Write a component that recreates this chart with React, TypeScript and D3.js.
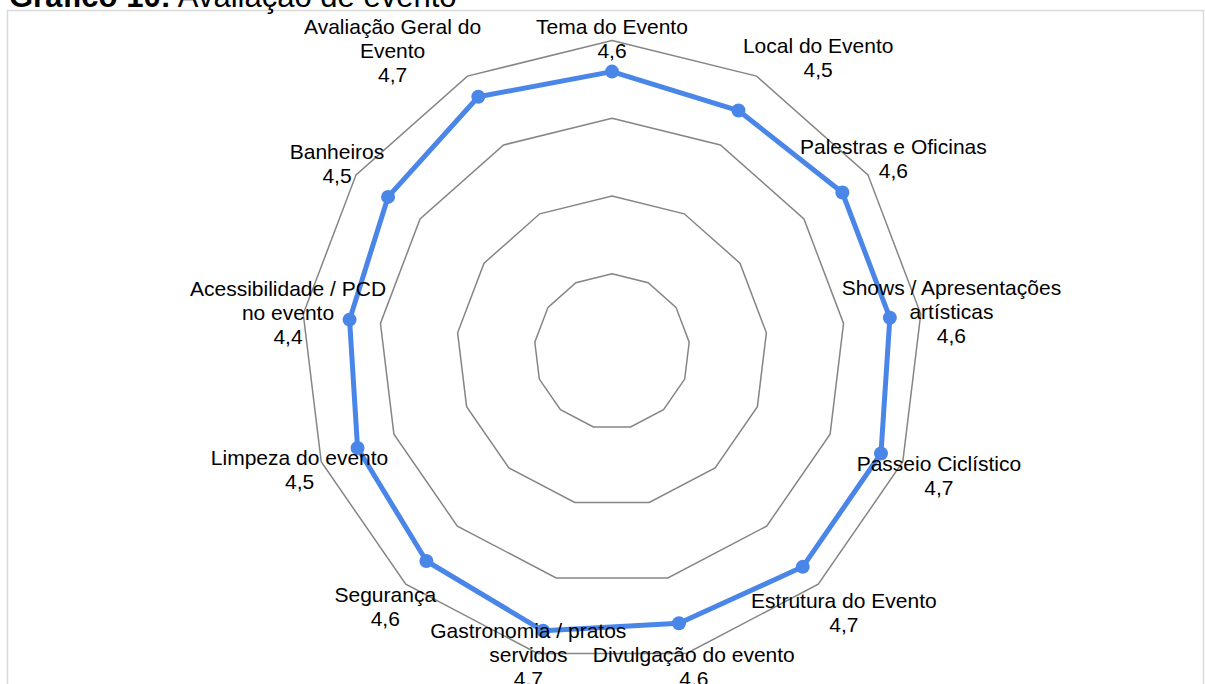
import React from "react";
import * as d3 from "d3";

const categories = [
  "Tema do Evento",
  "Local do Evento",
  "Palestras e Oficinas",
  "Shows / Apresentações artísticas",
  "Passeio Ciclístico",
  "Estrutura do Evento",
  "Divulgação do evento",
  "Gastronomia / pratos servidos",
  "Segurança",
  "Limpeza do evento",
  "Acessibilidade / PCD no evento",
  "Banheiros",
  "Avaliação Geral do Evento",
];
// label text broken the way the reference wraps it
const labelLines = [
  ["Tema do Evento"],
  ["Local do Evento"],
  ["Palestras e Oficinas"],
  ["Shows / Apresentações", "artísticas"],
  ["Passeio Ciclístico"],
  ["Estrutura do Evento"],
  ["Divulgação do evento"],
  ["Gastronomia / pratos", "servidos"],
  ["Segurança"],
  ["Limpeza do evento"],
  ["Acessibilidade / PCD", "no evento"],
  ["Banheiros"],
  ["Avaliação Geral do", "Evento"],
];
const scores = [4.6, 4.5, 4.6, 4.6, 4.7, 4.7, 4.6, 4.7, 4.6, 4.5, 4.4, 4.5, 4.7];
const ringTicks = [2, 3, 4, 5];

const W = 1205;
const H = 684;
const cx = 612;
const cy = 351.5;
const R = 311;
const lineH = 24;
const fontSize = 21;
const font = "'Liberation Sans', Arial, sans-serif";

const measure = (() => {
  const ctx = document.createElement("canvas").getContext("2d")!;
  ctx.font = `${fontSize}px 'Liberation Sans', Arial, sans-serif`;
  return (s: string) => ctx.measureText(s).width;
})();

const App = () => {
  const n = categories.length;
  const r = d3.scaleLinear().domain([1, 5]).range([0, R]);
  const angle = d3.scaleLinear().domain([0, n]).range([0, 2 * Math.PI]);

  const pt = (i: number, v: number): [number, number] => {
    const a = angle(i);
    return [cx + Math.sin(a) * r(v), cy - Math.cos(a) * r(v)];
  };

  const ringPath = (v: number) =>
    d3.line()(categories.map((_, i) => pt(i, v)))! + "Z";

  const seriesPath = d3.line()(scores.map((v, i) => pt(i, v)))! + "Z";

  const fmt = (v: number) => d3.format(".1f")(v).replace(".", ",");

  // label boxes: offset from the point, clamped to the chart area
  const labels = scores.map((v, i) => {
    const [x, y] = pt(i, v);
    const a = angle(i);
    const lines = [...labelLines[i], fmt(v)];
    const w = d3.max(lines, measure)!;
    const bx = x + Math.sin(a) * 62;
    let top = y - Math.cos(a) * 60 - ((lines.length - 1) * lineH) / 2;
    top = Math.max(top, 26);
    top = Math.min(top, 678 - (lines.length - 1) * lineH);
    return { lines, w, bx, top, bottom: top + (lines.length - 1) * lineH };
  });

  // upper labels keep clear of their neighbour nearer the top
  const gap = 55;
  const vOverlap = (p: any, q: any) => p.top <= q.bottom + lineH && q.top <= p.bottom + lineH;
  for (let i = 1; i < n / 2; i++) {
    const p = labels[i - 1], q = labels[i];
    if (q.top < cy && vOverlap(p, q)) {
      const minX = p.bx + p.w / 2 + gap + q.w / 2;
      if (q.bx < minX) q.bx = minX;
    }
  }
  for (let i = n - 1; i > n / 2; i--) {
    const p = labels[(i + 1) % n], q = labels[i];
    if (q.top < cy && vOverlap(p, q)) {
      const maxX = p.bx - p.w / 2 - gap - q.w / 2;
      if (q.bx > maxX) q.bx = maxX;
    }
  }

  return (
    <>
      <style>{`body{margin:0}`}</style>
      <svg width={W} height={H} style={{ display: "block" }}>
        <rect x={7.5} y={10.5} width={1196} height={700} fill="#fff" stroke="#d9d9d9" strokeWidth={1.5} />
        <text x={9} y={7} fontFamily={font} fontSize={31} fill="#000">
          <tspan fontWeight="bold">Gráfico 10:</tspan>
          <tspan> Avaliação de evento</tspan>
        </text>

        {ringTicks.map((t) => (
          <path key={t} d={ringPath(t)} fill="none" stroke="#858585" strokeWidth={1.5} />
        ))}

        <path d={seriesPath} fill="none" stroke="#4a86e8" strokeWidth={5} strokeLinejoin="round" />
        {scores.map((v, i) => {
          const [x, y] = pt(i, v);
          return <circle key={i} cx={x} cy={y} r={7} fill="#4a86e8" />;
        })}

        {labels.map((lb, i) => (
          <text
            key={categories[i]}
            x={lb.bx}
            textAnchor="middle"
            dominantBaseline="central"
            fontFamily={font}
            fontSize={fontSize}
            fill="#000"
          >
            {lb.lines.map((l, j) => (
              <tspan key={j} x={lb.bx} y={lb.top + j * lineH}>
                {l}
              </tspan>
            ))}
          </text>
        ))}
      </svg>
    </>
  );
};

export default App;
